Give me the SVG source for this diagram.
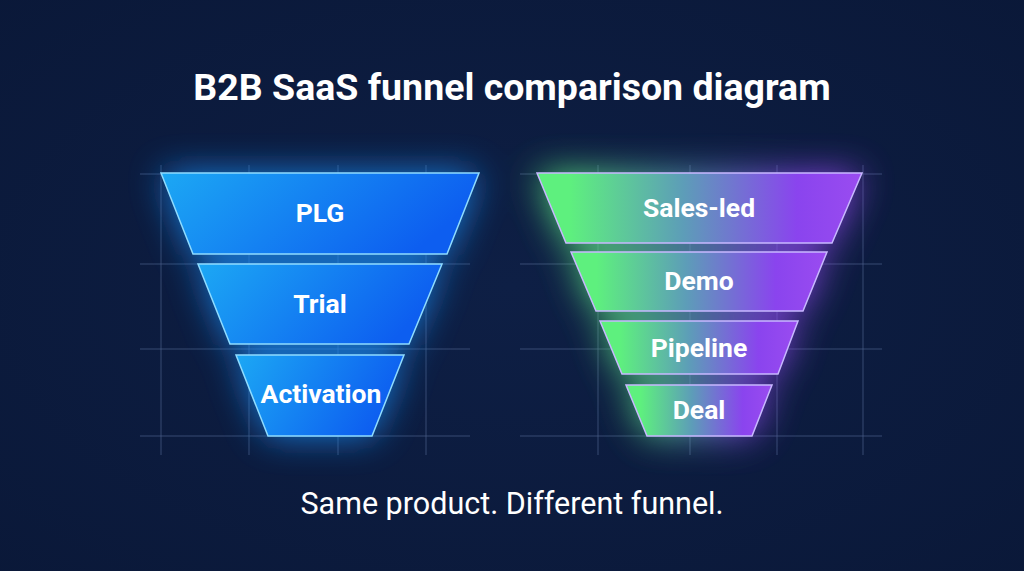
<svg xmlns="http://www.w3.org/2000/svg" width="1024" height="571" viewBox="0 0 1024 571">
<style>
.grid line{stroke:#4a5f88;stroke-width:1;opacity:0.7}
.lbl{font-family:Roboto,"Liberation Sans",sans-serif;font-weight:700;font-size:26.5px;fill:#ffffff;text-anchor:middle}
.blue{fill:url(#gb);stroke:#8fdcff;stroke-width:1.5}
.gp{fill:url(#gg);stroke:#c8b8ff;stroke-width:1.5}
</style>
<defs>
<radialGradient id="bg" cx="50%" cy="50%" r="75%">
<stop offset="0" stop-color="#0e1f45"/>
<stop offset="1" stop-color="#0a1838"/>
</radialGradient>
<linearGradient id="gb" x1="0" y1="0" x2="1" y2="0.3">
<stop offset="0" stop-color="#1ca8f4"/>
<stop offset="1" stop-color="#0d5ef0"/>
</linearGradient>
<linearGradient id="gg" x1="0" y1="0" x2="1" y2="0">
<stop offset="0.1" stop-color="#5ef07e"/>
<stop offset="0.45" stop-color="#5d9db8"/>
<stop offset="0.8" stop-color="#8a44ee"/>
<stop offset="1" stop-color="#9a4cf0"/>
</linearGradient>
<filter id="glowB" x="-40%" y="-40%" width="180%" height="180%">
<feGaussianBlur stdDeviation="18"/>
</filter>
</defs>
<rect width="1024" height="571" fill="url(#bg)"/>
<g class="grid">
<line x1="140" y1="174" x2="470" y2="174"/>
<line x1="140" y1="264" x2="470" y2="264"/>
<line x1="140" y1="349" x2="470" y2="349"/>
<line x1="140" y1="436" x2="470" y2="436"/>
<line x1="161" y1="165" x2="161" y2="455"/>
<line x1="249" y1="165" x2="249" y2="455"/>
<line x1="338" y1="165" x2="338" y2="455"/>
<line x1="426" y1="165" x2="426" y2="455"/>
<line x1="520" y1="174" x2="882" y2="174"/>
<line x1="520" y1="264" x2="882" y2="264"/>
<line x1="520" y1="349" x2="882" y2="349"/>
<line x1="520" y1="436" x2="882" y2="436"/>
<line x1="598" y1="165" x2="598" y2="455"/>
<line x1="690" y1="165" x2="690" y2="455"/>
<line x1="777" y1="165" x2="777" y2="455"/>
<line x1="863" y1="165" x2="863" y2="455"/>
</g>
<g id="glow" filter="url(#glowB)" opacity="0.85">
<polygon points="161,173 479,173 447,254 193,254" fill="#1a8cf5"/>
<polygon points="198,264 442,264 409,344 230,344" fill="#1a8cf5"/>
<polygon points="236,355 404,355 372,436 268,436" fill="#1a8cf5"/>
<polygon points="537,173 862,173 832,243 566,243" fill="url(#gg)"/>
<polygon points="571,252 827,252 803,311 596,311" fill="url(#gg)"/>
<polygon points="600,321 798,321 778,374 622,374" fill="url(#gg)"/>
<polygon points="626,385 772,385 752,436 647,436" fill="url(#gg)"/>
</g>
<text x="512" y="100" font-family="Roboto, 'Liberation Sans', sans-serif" font-weight="700" font-size="37.5" fill="#ffffff" text-anchor="middle">B2B SaaS funnel comparison diagram</text>
<g id="plg">
<polygon class="blue" points="161,173 479,173 447,254 193,254"/>
<text class="lbl" x="320" y="222">PLG</text>
</g>
<g id="trial">
<polygon class="blue" points="198,264 442,264 409,344 230,344"/>
<text class="lbl" x="320" y="313">Trial</text>
</g>
<g id="activation">
<polygon class="blue" points="236,355 404,355 372,436 268,436"/>
<text class="lbl" x="321" y="403">Activation</text>
</g>
<g id="salesled">
<polygon class="gp" points="537,173 862,173 832,243 566,243"/>
<text class="lbl" x="699" y="217">Sales-led</text>
</g>
<g id="demo">
<polygon class="gp" points="571,252 827,252 803,311 596,311"/>
<text class="lbl" x="699" y="290">Demo</text>
</g>
<g id="pipeline">
<polygon class="gp" points="600,321 798,321 778,374 622,374"/>
<text class="lbl" x="699" y="357">Pipeline</text>
</g>
<g id="deal">
<polygon class="gp" points="626,385 772,385 752,436 647,436"/>
<text class="lbl" x="699" y="419">Deal</text>
</g>
<g id="connectors"/>
<text x="512" y="514" font-family="Roboto, 'Liberation Sans', sans-serif" font-size="30.5" fill="#ffffff" text-anchor="middle">Same product. Different funnel.</text>
</svg>
